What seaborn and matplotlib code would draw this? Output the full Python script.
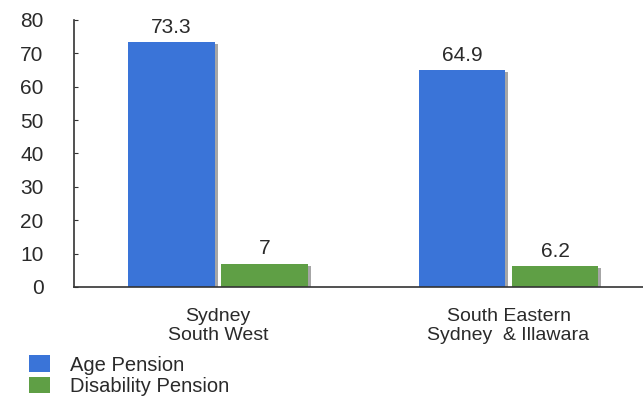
import matplotlib
matplotlib.use("Agg")
import matplotlib.patheffects as pe
import pandas as pd
import seaborn as sns
from matplotlib import pyplot as plt

regions = ["Sydney\nSouth West", "South Eastern\nSydney  & Illawara"]
series = ["Age Pension", "Disability Pension"]
age_pension = [73.3, 64.9]
disability_pension = [7, 6.2]
colors = ["#3a74d8", "#5f9f45"]

df = pd.DataFrame({
    "region": regions * 2,
    "series": [series[0]] * 2 + [series[1]] * 2,
    "value": age_pension + disability_pension,
})

sns.set_style("white")
plt.rcParams["font.family"] = ["Liberation Sans", "DejaVu Sans"]
text_color = "#2a2a2a"

fig = plt.figure(figsize=(6.43, 3.98), dpi=100)
ax = fig.add_axes([0.115, 0.279, 0.885, 0.671])

sns.barplot(
    data=df, x="region", y="value", hue="series",
    palette=colors, width=0.64, gap=0.07, saturation=1,
    linewidth=0, ax=ax, legend=True,
)

# soft drop shadow like the original slide
shadow = [pe.withSimplePatchShadow(offset=(2, -1.5), shadow_rgbFace="black", alpha=0.35),
          pe.Normal()]
for patch in ax.patches:
    patch.set_path_effects(shadow)

for container, vals in zip(ax.containers, [age_pension, disability_pension]):
    ax.bar_label(container, labels=[f"{v:g}" for v in vals], padding=4,
                 fontsize=15, color=text_color)

ax.set_ylim(0, 80)
ax.set_xlim(-0.496, 1.463)
ax.set_yticks(range(0, 81, 10))
ax.set_xlabel("")
ax.set_ylabel("")
ax.tick_params(axis="y", labelsize=15, labelcolor=text_color, length=3,
               direction="in", pad=22, left=True, color="#333333")
ax.tick_params(axis="x", labelsize=14, labelcolor=text_color, length=0, pad=15)
for lbl in ax.get_xticklabels():
    lbl.set_linespacing(1.2)
for side in ["top", "right"]:
    ax.spines[side].set_visible(False)
for side in ["left", "bottom"]:
    ax.spines[side].set_color("#333333")
    ax.spines[side].set_linewidth(1.2)

handles, labels = ax.get_legend_handles_labels()
for h in handles:
    h.set_path_effects([])
ax.legend(handles, labels, loc="upper left", bbox_to_anchor=(0.045, 0.107),
          bbox_transform=fig.transFigure, frameon=False, fontsize=14.5,
          handlelength=1.05, handleheight=0.9, handletextpad=1.0,
          labelspacing=0.1, borderaxespad=0, borderpad=0, labelcolor=text_color)

fig.savefig("out.png", dpi=100)
plt.close(fig)
